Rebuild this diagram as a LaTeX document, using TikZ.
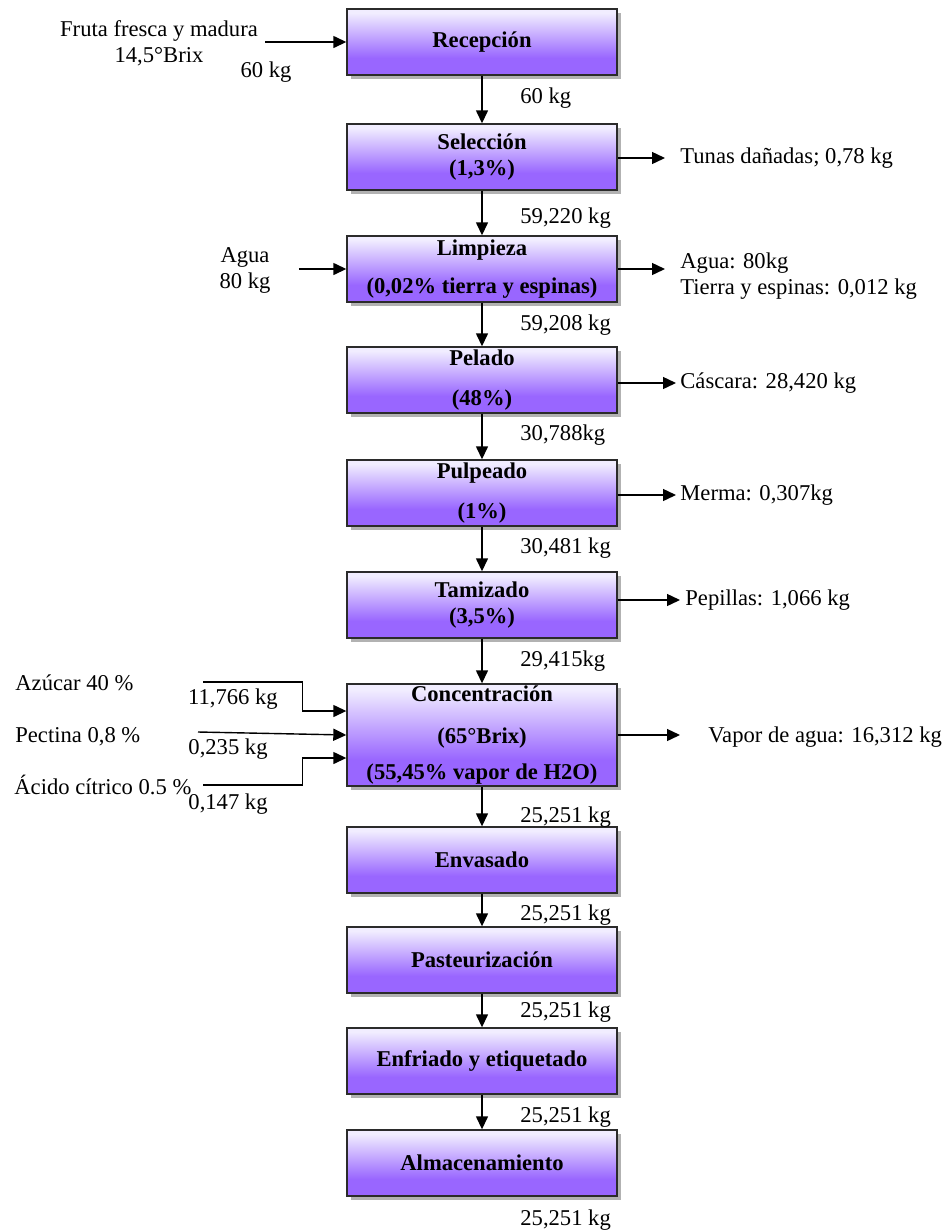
\documentclass[tikz,border=0pt]{standalone}
\usepackage{fontspec}
\setmainfont{Liberation Serif}
\usetikzlibrary{arrows.meta,shadows}

\definecolor{lilaclaro}{HTML}{F1EDFF}
\definecolor{lila}{HTML}{9966FF}
\definecolor{borde}{HTML}{2B2B2B}
\pgfdeclareverticalshading{degradado}{100bp}{color(0bp)=(lila); color(25bp)=(lila); color(38bp)=(lila); color(72bp)=(lilaclaro); color(100bp)=(lilaclaro)}

\begin{document}
\begin{tikzpicture}[x=0.5pt,y=-0.5pt,
    font=\fontsize{11.3}{13}\selectfont,
    etapa/.style={draw=borde,line width=0.7pt,shading=degradado,
        minimum width=135pt,minimum height=33pt,inner sep=0pt,align=center,
        font=\fontsize{11.3}{13}\selectfont\bfseries,
        drop shadow={shadow xshift=2pt,shadow yshift=-2.2pt,fill=black!60,opacity=0.5}},
    dato/.style={inner sep=0pt,align=center},
    flecha/.style={line width=0.7pt,-{Triangle[length=6.5pt,width=6pt]}}]
\useasboundingbox (0,0) rectangle (948,1232);

% etapas del proceso
\node[etapa] (recep) at (482,42) {Recepción};
\node[etapa] (selec) at (482,157) {Selección\\(1,3\%)};
\node[etapa] (limp) at (482,269) {Limpieza\\[6pt](0,02\% tierra y espinas)};
\node[etapa] (pelado) at (482,380) {Pelado\\[7pt](48\%)};
\node[etapa] (pulpeo) at (482,493) {Pulpeado\\[7pt](1\%)};
\node[etapa] (tamiz) at (482,605) {Tamizado\\(3,5\%)};
\node[etapa,minimum height=51pt] (conc) at (482,735) {Concentración\\[8pt](65°Brix)\\[5pt](55,45\% vapor de H2O)};
\node[etapa] (envas) at (482,860) {Envasado};
\node[etapa] (paste) at (482,960) {Pasteurización};
\node[etapa] (enfri) at (482,1061) {Enfriado y etiquetado};
\node[etapa] (almac) at (482,1163) {Almacenamiento};

\foreach \a/\b in {recep/selec,selec/limp,limp/pelado,pelado/pulpeo,pulpeo/tamiz,
    tamiz/conc,conc/envas,envas/paste,paste/enfri,enfri/almac}
    \draw[flecha] (\a) -- (\b);

% pesos
\node[dato,anchor=west] (m1) at (520,98) {60 kg};
\node[dato,anchor=west] (m2) at (520,218) {59,220 kg};
\node[dato,anchor=west] (m3) at (520,325) {59,208 kg};
\node[dato,anchor=west] (m4) at (520,435) {30,788kg};
\node[dato,anchor=west] (m5) at (520,548) {30,481 kg};
\node[dato,anchor=west] (m6) at (520,661) {29,415kg};
\node[dato,anchor=west] (m7) at (520,817) {25,251 kg};
\node[dato,anchor=west] (m8) at (520,915) {25,251 kg};
\node[dato,anchor=west] (m9) at (520,1012) {25,251 kg};
\node[dato,anchor=west] (m10) at (520,1117) {25,251 kg};
\node[dato,anchor=west] (m11) at (520,1220) {25,251 kg};

% entradas
\node[dato] (fruta) at (159,43) {Fruta fresca y madura\\14,5°Brix};
\node[dato] (m0) at (266,72) {60 kg};
\draw[flecha,shorten <=3.5pt] (fruta.east |- recep.west) -- (recep.west);

\node[dato] (agua) at (245,270) {Agua\\80 kg};
\draw[flecha,shorten <=14pt] (agua.east |- limp.west) -- (limp.west);

\node[dato,anchor=west] (azucar) at (15,683) {Azúcar 40 \%};
\node[dato] (maz) at (233,699) {11,766 kg};
\coordinate (az0) at (203,682);
\coordinate (az1) at ([yshift=12pt]conc.west);
\draw[flecha] (az0) -| ([xshift=-22pt]az1) -- (az1);

\node[dato,anchor=west] (pectina) at (15,737) {Pectina 0,8 \%};
\node[dato] (mpe) at (228,749) {0,235 kg};
\coordinate (pe0) at (198,732);
\draw[flecha] (pe0) -- (conc.west);

\node[dato,anchor=west] (acido) at (14,785) {Ácido cítrico 0.5 \%};
\node[dato] (mac) at (228,804) {0,147 kg};
\coordinate (ac0) at (203,785);
\coordinate (ac1) at ([yshift=-11.5pt]conc.west);
\draw[flecha] (ac0) -| ([xshift=-22pt]ac1) -- (ac1);

% salidas
\node[dato,anchor=west] (tunas) at (680,158) {Tunas dañadas; 0,78 kg};
\draw[flecha,shorten >=7.5pt] (selec.east |- tunas.west) -- (tunas.west);

\node[dato,anchor=west,align=left] (aguaout) at (680,276) {Agua: 80kg\\Tierra y espinas: 0,012 kg};
\draw[flecha,shorten >=7.5pt] (limp.east) -- (limp.east -| aguaout.west);

\node[dato,anchor=west] (cascara) at (680,383) {Cáscara: 28,420 kg};
\draw[flecha,shorten >=2pt] (pelado.east |- cascara.west) -- (cascara.west);

\node[dato,anchor=west] (merma) at (680,495) {Merma: 0,307kg};
\draw[flecha,shorten >=2pt] (pulpeo.east |- merma.west) -- (merma.west);

\node[dato,anchor=west] (pepillas) at (685,600) {Pepillas: 1,066 kg};
\draw[flecha,shorten >=2.5pt] (tamiz.east |- pepillas.west) -- (pepillas.west);

\node[dato,anchor=west] (vapor) at (708,737) {Vapor de agua: 16,312 kg};
\draw[flecha,shorten >=14pt] (conc.east) -- (conc.east -| vapor.west);
\end{tikzpicture}
\end{document}
